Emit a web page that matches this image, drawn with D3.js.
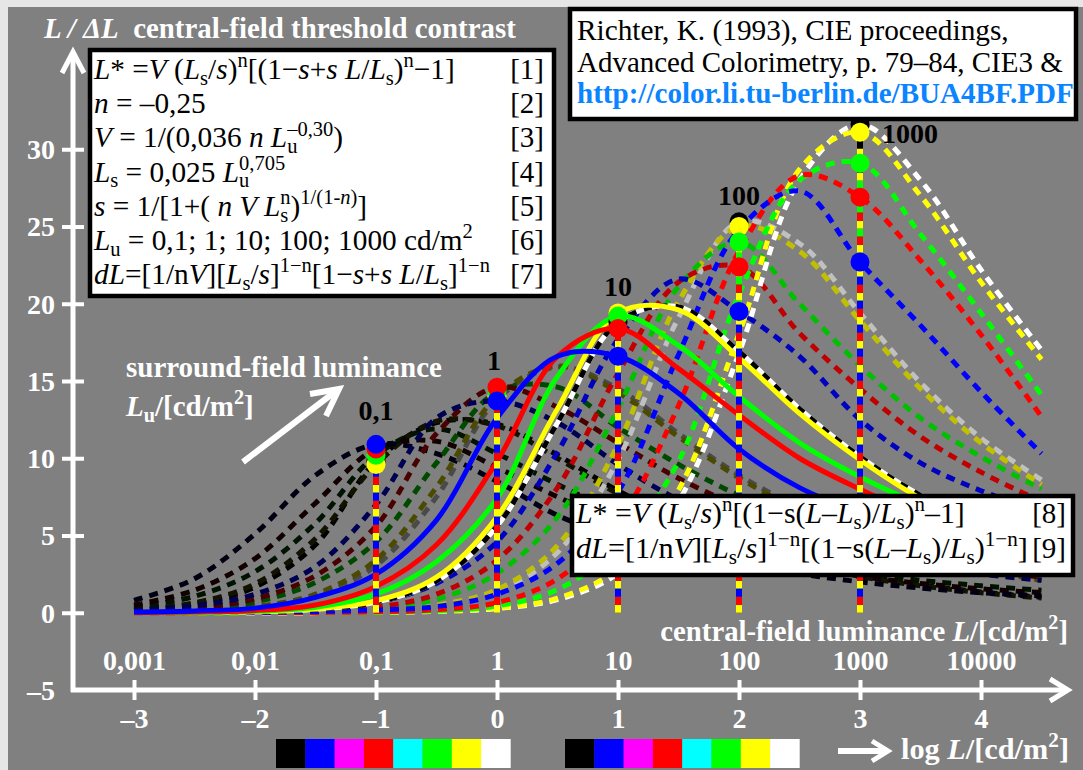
<!DOCTYPE html>
<html><head><meta charset="utf-8">
<script src="https://cdn.jsdelivr.net/npm/d3@7"></script>
<style>
body{margin:0;background:#e6e6e6;}
svg{display:block;}
text{font-family:"Liberation Serif","Times New Roman",serif;}
</style></head><body>
<svg id="c" width="1083" height="770"></svg>
<script>
// ---------- data ----------
const logL = [-3,-2.5,-2,-1.5,-1,-0.5,0,0.5,1,1.5,2,2.5,3,3.5,4,4.5];
const surroundLu = [0.1, 1, 10, 100, 1000];
const surroundLogLu = [-1, 0, 1, 2, 3];
const surroundLabels = ["0,1","1","10","100","1000"];
const pointColors = ["#000000","#ffff00","#00ff00","#ff0000","#0000ff"];

// Lu = 0,1 cd/m2  (W, Y, G, R, B)
const lu01W = [0.19,0.57,1.67,4.4,9.8,12.3,12.2,10.2,7.9,6.0,4.5,3.4,2.4,1.8,1.35,1.0];
const lu01Y = [0.21,0.64,1.87,4.81,9.6,12.4,12.1,10.0,7.7,5.9,4.4,3.3,2.35,1.75,1.3,0.95];
const lu01G = [0.35,1.06,2.66,5.8,10.2,11.9,10.3,8.3,6.5,5.2,4.1,3.3,2.6,2.1,1.75,1.45];
const lu01R = [0.5,1.46,3.5,7.1,10.6,11.1,9.4,7.5,5.9,4.7,3.7,3.0,2.35,1.9,1.55,1.3];
const lu01B = [0.8,2.2,5.1,8.9,10.9,10.3,8.5,6.3,4.9,3.9,3.0,2.5,2.0,1.6,1.3,1.1];
// Lu = 1
const lu1W = [0.036,0.12,0.35,1.07,3.05,7.5,13.8,15.9,14.5,11.6,8.9,6.8,5.1,3.8,2.87,2.15];
const lu1Y = [0.04,0.13,0.39,1.2,3.41,8.13,14.0,15.97,14.26,11.39,8.74,6.62,4.97,3.73,2.8,2.09];
const lu1G = [0.06,0.2,0.69,1.97,4.6,9.7,14.3,14.6,12.0,9.6,7.6,6.0,4.8,3.9,3.0,2.5];
const lu1R = [0.08,0.28,0.9,2.4,5.6,11.6,14.6,13.3,11.0,8.7,6.9,5.4,4.4,3.5,2.8,2.3];
const lu1B = [0.15,0.45,1.2,3.0,7.0,12.6,13.7,12.3,9.6,7.3,5.6,4.5,3.7,3.0,2.5,2.1];
// Lu = 10
const lu10W = [0.009,0.027,0.07,0.22,0.69,2.05,5.6,12.3,18.8,19.8,16.9,13.2,10.1,7.6,5.75,4.3];
const lu10Y = [0.01,0.03,0.08,0.25,0.77,2.3,6.2,13.2,19.4,19.6,16.5,12.9,9.9,7.4,5.6,4.2];
const lu10G = [0.01,0.03,0.1,0.35,1.2,3.3,7.4,15.3,19.2,17.3,14.0,11.0,8.8,7.0,5.6,4.5];
const lu10R = [0.02,0.05,0.15,0.5,1.7,4.4,9.8,16.6,18.4,15.8,12.8,10.0,8.0,6.3,5.1,4.1];
const lu10B = [0.05,0.12,0.3,1.0,2.5,6.0,12.6,16.6,16.6,14.2,10.6,8.1,6.5,5.4,4.5,3.8];
// Lu = 100
const lu100W = [0,0.004,0.014,0.045,0.14,0.44,1.35,3.9,9.9,19.1,25.3,23.9,19.4,14.9,11.3,8.6];
const lu100Y = [0,0.005,0.016,0.05,0.16,0.49,1.5,4.35,10.9,20.15,25.0,23.4,18.9,14.5,11.0,8.3];
const lu100G = [0,0,0.02,0.07,0.25,0.86,2.55,6.2,13.2,21.1,24.0,20.0,16.0,12.6,10.1,8.0];
const lu100R = [0,0,0.03,0.1,0.36,1.2,3.4,8.1,15.5,21.4,22.4,18.1,14.5,11.4,9.1,7.2];
const lu100B = [0.01,0.02,0.09,0.25,0.67,1.9,4.6,10.4,17.7,21.6,19.5,16.6,12.5,9.7,7.9,6.5];
// Lu = 1000
const lu1000W = [0,0,0.003,0.009,0.027,0.09,0.27,0.85,2.55,7.2,16.8,28.0,31.6,28.0,22.2,17.0];
const lu1000Y = [0,0,0.003,0.01,0.03,0.1,0.3,0.94,2.85,7.94,18.06,28.7,31.1,27.0,21.4,16.4];
const lu1000G = [0,0,0.01,0.02,0.04,0.13,0.44,1.5,4.3,9.8,20.6,28.0,29.1,24.5,19.4,14.1];
const lu1000R = [0,0,0.01,0.02,0.06,0.2,0.65,2.2,5.9,13.4,23.4,28.3,26.9,22.8,18.0,12.7];
const lu1000B = [0,0.01,0.03,0.08,0.18,0.4,1.2,3.2,7.8,16.7,24.8,27.3,22.7,18.6,14.3,10.3];

const colorsLu01 = ["#000000","#121200","#001200","#120000","#000012"];
const colorsLu1 = ["#4a4a4a","#4a4a00","#004a00","#4a0000","#000052"];
const colorsLu10 = ["#ffffff","#ffff00","#00ff00","#ff0000","#0000ff"];
const colorsLu100 = ["#c0c0c0","#c0c000","#00c000","#c00000","#0000c0"];
const colorsLu1000 = ["#ffffff","#ffff00","#00ff00","#ff0000","#0000ff"];

const yTicks = [-5,0,5,10,15,20,25,30];
const yTickLabels = ["–5","0","5","10","15","20","25","30"];
const xTicks = [-3,-2,-1,0,1,2,3,4];
const xTickLabels = ["–3","–2","–1","0","1","2","3","4"];
const luminanceLabels = ["0,001","0,01","0,1","1","10","100","1000","10000"];
const swatchColors = ["#000000","#0000ff","#ff00ff","#ff0000","#00ffff","#00ff00","#ffff00","#ffffff"];

const formulaLines = [
 "~L~* =~V~ (~L~_{s}/~s~)^{n}[(1−~s~+~s L~/~L~_{s})^{n}−1]",
 "~n~ = –0,25",
 "~V~ = 1/(0,036 ~n L~_{u}^{@–0,30})",
 "~L~_{s} = 0,025 ~L~_{u}^{@0,705}",
 "~s~ = 1/[1+( ~n V L~_{s}^{@n})^{1/(1-~n~)}]",
 "~L~_{u} = 0,1; 1; 10; 100; 1000 cd/m^{2}",
 "~dL~=[1/n~V~][~L~_{s}/~s~]^{1−n}[1−~s~+~s L~/~L~_{s}]^{1−n}"
];
const formulaTags = ["[1]","[2]","[3]","[4]","[5]","[6]","[7]"];
const formula2Lines = [
 "~L~* =~V~ (~L~_{s}/~s~)^{n}[(1−s(~L~–~L~_{s})/~L~_{s})^{n}–1]",
 "~dL~=[1/n~V~][~L~_{s}/~s~]^{1−n}[(1−s(~L~–~L~_{s})/~L~_{s})^{1−n}]"
];
const formula2Widths = [390, 452];
const formula2Tags = ["[8]","[9]"];
const refLines = ["Richter, K. (1993), CIE proceedings,","Advanced Colorimetry, p. 79–84, CIE3 &","http://color.li.tu-berlin.de/BUA4BF.PDF"];
const refWidths = [432, 486, 497];

// ---------- scales ----------
const x = d3.scaleLinear().domain([-3,4]).range([134,981]);
const y = d3.scaleLinear().domain([-5,30]).range([690,149.25]);

const svg = d3.select("#c");
svg.append("rect").attr("x",8).attr("y",7).attr("width",1075).attr("height",763).attr("fill","#808080");

// ---------- rich text ----------
function tokenize(str, base){
  base = base||{};
  const segs=[]; let it=!!base.i; let buf=""; let i=0;
  const flush=()=>{ if(buf){ segs.push({t:buf,i:it,sub:!!base.sub,sup:!!base.sup,stack:false}); buf=""; } };
  while(i<str.length){
    const c=str[i];
    if(c==="~"){ flush(); it=!it; i++; }
    else if((c==="_"||c==="^") && str[i+1]==="{"){
      flush();
      let depth=0, j=i+1;
      for(;j<str.length;j++){ if(str[j]==="{")depth++; else if(str[j]==="}"){ depth--; if(depth===0) break; } }
      let inner=str.slice(i+2,j); let stack=false;
      if(inner[0]==="@"){ stack=true; inner=inner.slice(1); }
      const s=tokenize(inner,{i:it,sub:c==="_",sup:c==="^"});
      if(s.length) s[0].stack=stack;
      segs.push(...s);
      i=j+1;
    } else { buf+=c; i++; }
  }
  flush();
  return segs;
}
function buildRich(g, str, o, fs){
  const t=g.append("text").attr("x",o.x).attr("y",o.y).attr("font-size",fs)
    .attr("fill",o.fill||"#000").attr("font-weight",o.bold?"bold":"normal")
    .attr("text-anchor",o.anchor||"start").style("white-space","pre");
  let shift=0, lastSub=null;
  tokenize(str).forEach(s=>{
    const target = s.sub ? 0.2*fs : (s.sup ? -0.4*fs : 0);
    const ts=t.append("tspan").text(s.t);
    if(target!==shift) ts.attr("dy", target-shift);
    shift=target;
    if(s.sub||s.sup) ts.attr("font-size", fs*0.7);
    if(s.i) ts.attr("font-style","italic");
    if(s.stack && lastSub) ts.attr("dx", -lastSub.node().getComputedTextLength());
    lastSub = s.sub ? ts : null;
  });
  return t;
}
function richText(g, str, o){
  let t=buildRich(g,str,o,o.fs);
  if(o.w){
    const w=t.node().getBBox().width;
    const fs=o.fs*o.w/w;
    t.remove();
    t=buildRich(g,str,o,fs);
  }
  return t;
}

// ---------- curves ----------
const line = d3.line().x((d,i)=>x(logL[i])).y(d=>y(d)).curve(d3.curveCatmullRom.alpha(0.5));
const families = [
  {curves:[lu01W,lu01Y,lu01G,lu01R,lu01B], colors:colorsLu01, solid:false},
  {curves:[lu1W,lu1Y,lu1G,lu1R,lu1B], colors:colorsLu1, solid:false},
  {curves:[lu100W,lu100Y,lu100G,lu100R,lu100B], colors:colorsLu100, solid:false},
  {curves:[lu1000W,lu1000Y,lu1000G,lu1000R,lu1000B], colors:colorsLu1000, solid:false},
  {curves:[lu10W,lu10Y,lu10G,lu10R,lu10B], colors:colorsLu10, solid:true}
];
const gCurves = svg.append("g").attr("fill","none");
families.forEach(f=>{
  f.curves.forEach((c,k)=>{
    if(f.solid){
      if(k===0){
        gCurves.append("path").attr("d",line(c)).attr("stroke","#ffffff").attr("stroke-width",5);
        gCurves.append("path").attr("d",line(c)).attr("stroke","#000000").attr("stroke-width",5).attr("stroke-dasharray","8,8");
      } else {
        gCurves.append("path").attr("d",line(c)).attr("stroke",f.colors[k]).attr("stroke-width",5);
      }
    } else {
      gCurves.append("path").attr("d",line(c)).attr("stroke",f.colors[k]).attr("stroke-width",5).attr("stroke-dasharray","9,7");
    }
  });
});

// ---------- vertical lines and points ----------
const famByLu = [families[0],families[1],families[4],families[2],families[3]];
const idxByLu = surroundLogLu.map(v=>logL.indexOf(v));
const gV = svg.append("g");
const vDash = [null,{a:"8,16",o:0},{a:"8,16",o:8},{a:"8,16",o:16},{a:"8,16",o:8}];
surroundLogLu.forEach((lv,j)=>{
  const f=famByLu[j], ix=idxByLu[j];
  f.curves.forEach((c,k)=>{
    const p=gV.append("line").attr("x1",x(lv)).attr("x2",x(lv)).attr("y1",y(0)).attr("y2",y(c[ix]))
      .attr("stroke",pointColors[k]).attr("stroke-width",6);
    if(vDash[k]) p.attr("stroke-dasharray",vDash[k].a).attr("stroke-dashoffset",vDash[k].o);
  });
});
surroundLogLu.forEach((lv,j)=>{
  const f=famByLu[j], ix=idxByLu[j];
  f.curves.forEach((c,k)=>{
    gV.append("circle").attr("cx",x(lv)).attr("cy",y(c[ix])).attr("r",9.5).attr("fill",pointColors[k]);
  });
});
surroundLogLu.forEach((lv,j)=>{
  const f=famByLu[j], ix=idxByLu[j];
  const top=d3.max(f.curves,c=>c[ix]);
  const t=svg.append("text").attr("font-size",28).attr("font-weight","bold").attr("fill","#000").text(surroundLabels[j]);
  if(j===4){ t.attr("x",x(lv)+22).attr("y",y(top)+18); }
  else { t.attr("x",x(lv)+(j===1?-3:0)).attr("y",y(top)-(j===0?24:17)).attr("text-anchor","middle"); }
});

// ---------- axes ----------
const white="#ffffff";
const gy = svg.append("g").attr("transform","translate(73,0)")
  .call(d3.axisLeft(y).tickValues(yTicks).tickSize(0).tickFormat((d,i)=>yTickLabels[i]));
gy.select(".domain").remove();
gy.attr("font-family",null).attr("font-size",null);
gy.selectAll(".tick text").attr("x",-18).attr("dy","0.33em").attr("fill",white)
  .attr("font-size",28).attr("font-weight","bold");
gy.selectAll(".tick").filter(d=>d!==-5).append("line").attr("x1",-11).attr("x2",11).attr("stroke",white).attr("stroke-width",4);

const gx = svg.append("g").attr("transform","translate(0,690)")
  .call(d3.axisBottom(x).tickValues(xTicks).tickSize(0).tickFormat((d,i)=>xTickLabels[i]));
gx.select(".domain").remove();
gx.attr("font-family",null).attr("font-size",null);
gx.selectAll(".tick text").attr("y",38).attr("dy",0).attr("fill",white).attr("font-size",28).attr("font-weight","bold");
gx.selectAll(".tick").append("line").attr("y1",-10).attr("y2",10).attr("stroke",white).attr("stroke-width",4);

const gx2 = svg.append("g").attr("transform","translate(0,690)")
  .call(d3.axisBottom(x).tickValues(xTicks).tickSize(0).tickFormat((d,i)=>luminanceLabels[i]));
gx2.select(".domain").remove();
gx2.attr("font-family",null).attr("font-size",null);
gx2.selectAll(".tick text").attr("y",-20).attr("dy",0).attr("fill",white).attr("font-size",28).attr("font-weight","bold");

svg.append("line").attr("x1",73).attr("x2",73).attr("y1",692).attr("y2",52).attr("stroke",white).attr("stroke-width",5);
svg.append("polyline").attr("points","62,73 73,52 84,73").attr("fill","none").attr("stroke",white).attr("stroke-width",5);
svg.append("line").attr("x1",71).attr("x2",1066).attr("y1",690).attr("y2",690).attr("stroke",white).attr("stroke-width",5);
svg.append("polyline").attr("points","1050,679 1068,690 1050,701").attr("fill","none").attr("stroke",white).attr("stroke-width",5);

// ---------- texts ----------
richText(svg,"~L / ΔL~  central-field threshold contrast",{x:44,y:38,fs:25,fill:white,bold:true,w:474});
richText(svg,"surround-field luminance",{x:126,y:377,fs:26,fill:white,bold:true,w:316});
richText(svg,"~L~_{u}/[cd/m^{2}]",{x:126,y:416,fs:29,fill:white,bold:true});
svg.append("line").attr("x1",243).attr("y1",462).attr("x2",336).attr("y2",391).attr("stroke",white).attr("stroke-width",6);
svg.append("polyline").attr("points","310,394 339,389 326,416").attr("fill","none").attr("stroke",white).attr("stroke-width",6);
richText(svg,"central-field luminance ~L~/[cd/m^{2}]",{x:1068,y:641,fs:26,fill:white,bold:true,anchor:"end",w:408});
richText(svg,"log ~L~/[cd/m^{2}]",{x:901,y:759,fs:26,fill:white,bold:true,w:168});
svg.append("line").attr("x1",838).attr("y1",751).attr("x2",884).attr("y2",751).attr("stroke",white).attr("stroke-width",6);
svg.append("polyline").attr("points","872,741 888,751 872,761").attr("fill","none").attr("stroke",white).attr("stroke-width",5);

// swatches
[276,565].forEach(x0=>{
  swatchColors.forEach((c,i)=>{
    svg.append("rect").attr("x",x0+i*29.3).attr("y",739).attr("width",29.6).attr("height",29).attr("fill",c);
  });
});

// formula box 1
svg.append("rect").attr("x",90).attr("y",50).attr("width",464).attr("height",246).attr("fill","#fff").attr("stroke","#000").attr("stroke-width",4.5);
formulaLines.forEach((s,i)=>{
  richText(svg,s,{x:94,y:79+i*34.2,fs:29.3});
  svg.append("text").attr("x",544).attr("y",79+i*34.2).attr("font-size",29).attr("text-anchor","end").text(formulaTags[i]);
});
// reference box
svg.append("rect").attr("x",570).attr("y",9).attr("width",506).attr("height",110).attr("fill","#fff").attr("stroke","#000").attr("stroke-width",4.5);
refLines.forEach((s,i)=>{
  if(i===2) richText(svg,s,{x:577,y:103,fs:25,fill:"#0a84ff",bold:true,w:refWidths[i]});
  else richText(svg,s,{x:577,y:40+i*31.5,fs:27,w:refWidths[i]});
});
// formula box 2
svg.append("rect").attr("x",572).attr("y",496).attr("width",501).attr("height",79).attr("fill","#fff").attr("stroke","#000").attr("stroke-width",4.5);
formula2Lines.forEach((s,i)=>{
  richText(svg,s,{x:576,y:523+i*35,fs:29,w:formula2Widths[i]});
  svg.append("text").attr("x",1066).attr("y",523+i*35).attr("font-size",29).attr("text-anchor","end").text(formula2Tags[i]);
});
</script></body></html>
